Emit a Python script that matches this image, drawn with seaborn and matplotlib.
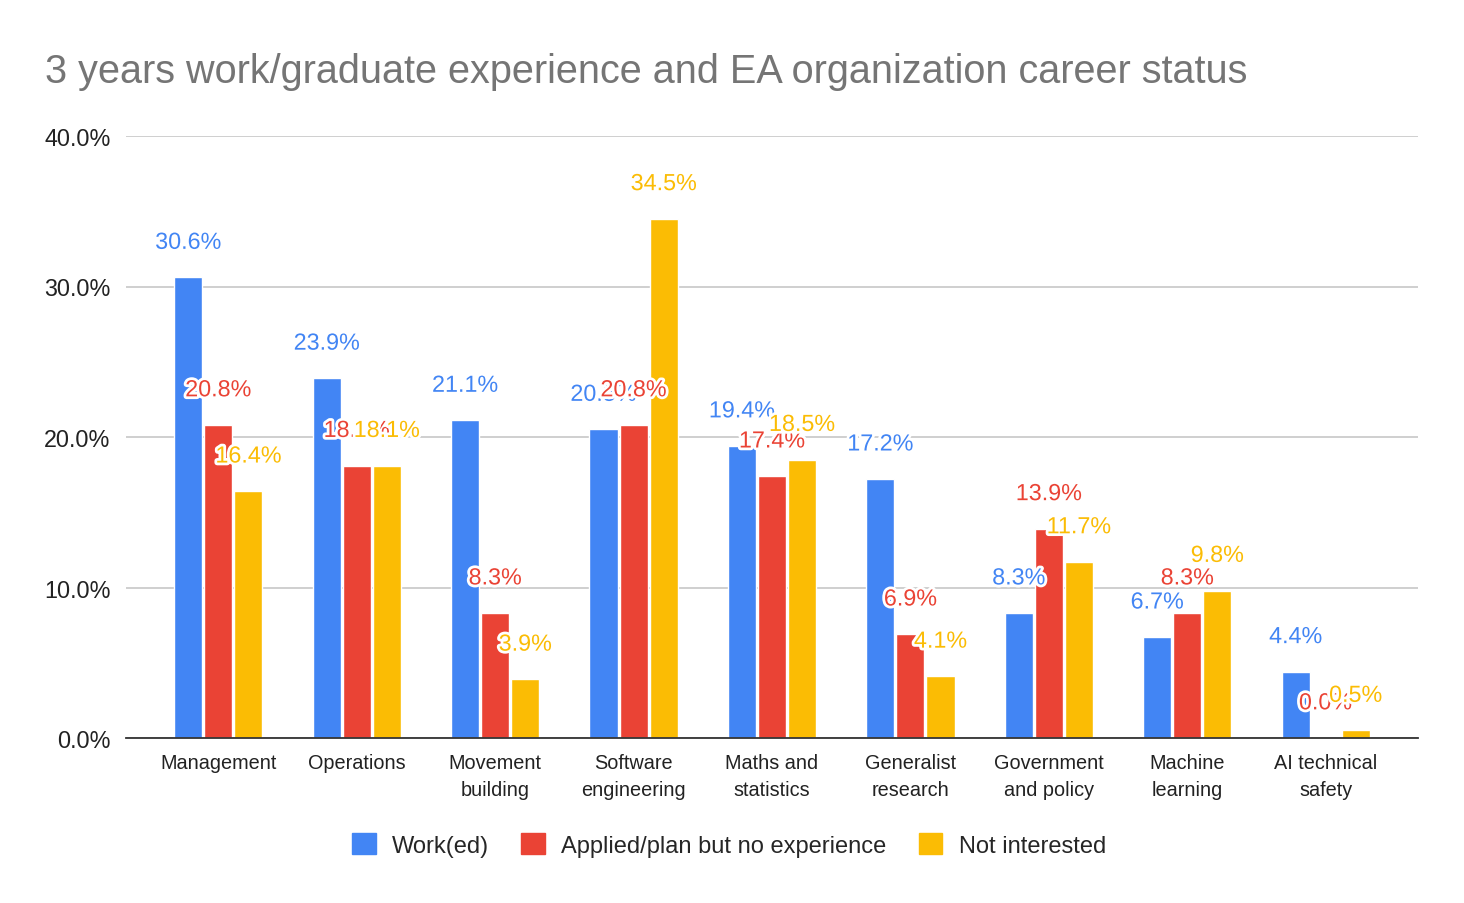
import matplotlib
matplotlib.use("Agg")
import matplotlib.pyplot as plt
import matplotlib.patheffects as pe
from matplotlib.patches import Patch
import seaborn as sns
import pandas as pd

categories = ["Management", "Operations", "Movement\nbuilding", "Software\nengineering",
              "Maths and\nstatistics", "Generalist\nresearch", "Government\nand policy",
              "Machine\nlearning", "AI technical\nsafety"]
series_names = ["Work(ed)", "Applied/plan but no experience", "Not interested"]
worked = [30.6, 23.9, 21.1, 20.5, 19.4, 17.2, 8.3, 6.7, 4.4]
applied = [20.8, 18.1, 8.3, 20.8, 17.4, 6.9, 13.9, 8.3, 0.0]
not_interested = [16.4, 18.1, 3.9, 34.5, 18.5, 4.1, 11.7, 9.8, 0.5]
yticks = [0, 10, 20, 30, 40]
title = "3 years work/graduate experience and EA organization career status"

colors = ["#4285F4", "#EA4335", "#FBBC04"]

rows = []
for name, vals in zip(series_names, [worked, applied, not_interested]):
    for c, v in zip(categories, vals):
        rows.append({"category": c, "series": name, "value": v})
df = pd.DataFrame(rows)

sns.set_theme(style="white")
plt.rcParams["font.family"] = ["Liberation Sans", "DejaVu Sans"]

fig = plt.figure(figsize=(14.64, 9.04), dpi=100)
ax = fig.add_axes([126/1464, 1-739/904, (1418-126)/1464, (739-137)/904])

sns.barplot(data=df, x="category", y="value", hue="series", order=categories,
            hue_order=series_names, palette=colors, width=0.652, gap=0.067,
            saturation=1, ax=ax, legend=False, errorbar=None)

ax.set_xlim(-0.667, 8.667)
ax.set_ylim(0, 40)
ax.set_yticks(yticks)
ax.set_yticklabels([f"{t:.1f}%" for t in yticks], fontsize=16.8, color="#222222")
ax.yaxis.grid(True, color="#cccccc", linewidth=1.3)
ax.set_axisbelow(True)
for s in ["top", "right", "left"]:
    ax.spines[s].set_visible(False)
ax.spines["bottom"].set_color("#333333")
ax.spines["bottom"].set_linewidth(1.3)
ax.tick_params(axis="y", length=0, pad=11)
ax.tick_params(axis="x", length=0, pad=11)
for lbl in ax.get_xticklabels():
    lbl.set_fontsize(14.3)
    lbl.set_color("#222222")
    lbl.set_linespacing(1.5)
ax.set_xlabel("")
ax.set_ylabel("")

for cont, col in zip(ax.containers, colors):
    for bar in cont:
        h = bar.get_height()
        ax.annotate(f"{h:.1f}%", (bar.get_x() + bar.get_width()/2, h),
                    xytext=(0, 25.3), textcoords="offset points",
                    ha="center", va="center", fontsize=16.8, color=col,
                    path_effects=[pe.withStroke(linewidth=4, foreground="white")])

fig.text(45/1464, 1-72/904, title, fontsize=28.5, color="#757575", ha="left", va="center")

handles = [Patch(facecolor=c, edgecolor=c, label=n) for c, n in zip(colors, series_names)]
fig.legend(handles=handles, loc="center", bbox_to_anchor=(0.498, 1-846/904), ncol=3,
           frameon=False, fontsize=17, handlelength=1.0, handleheight=1.0,
           handletextpad=0.7, columnspacing=1.35)

fig.savefig("out.png", dpi=100)
